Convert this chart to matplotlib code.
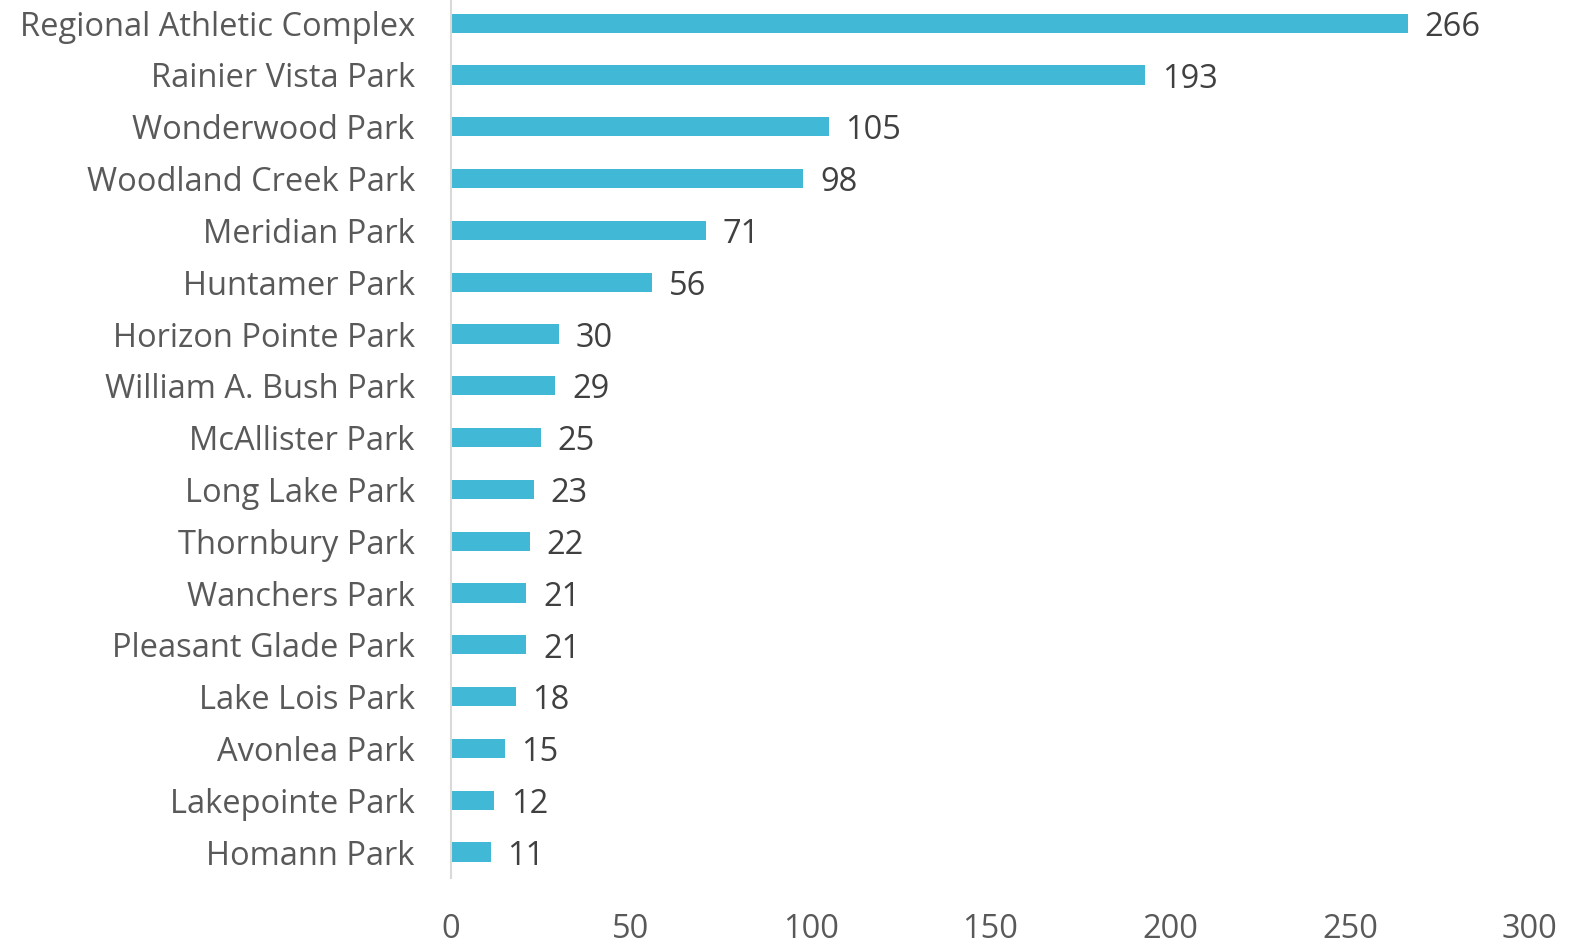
import matplotlib.pyplot as plt

parks = ['Regional Athletic Complex', 'Rainier Vista Park', 'Wonderwood Park',
         'Woodland Creek Park', 'Meridian Park', 'Huntamer Park', 'Horizon Pointe Park',
         'William A. Bush Park', 'McAllister Park', 'Long Lake Park', 'Thornbury Park',
         'Wanchers Park', 'Pleasant Glade Park', 'Lake Lois Park', 'Avonlea Park',
         'Lakepointe Park', 'Homann Park']
counts = [266, 193, 105, 98, 71, 56, 30, 29, 25, 23, 22, 21, 21, 18, 15, 12, 11]
xticks = [0, 50, 100, 150, 200, 250, 300]

plt.rcParams['font.family'] = ['Open Sans', 'DejaVu Sans']

fig = plt.figure(figsize=(15.89, 9.46), dpi=100)
ax = fig.add_axes([0.2838, 0.0719, 0.679, 0.931])

ypos = list(range(len(parks)))[::-1]
ax.barh(ypos, counts, height=0.37, color='#41B8D5')

for y, v in zip(ypos, counts):
    ax.annotate(str(v), xy=(v, y), xytext=(12, -3), textcoords='offset points',
                ha='left', va='center', fontsize=23.5, color='#404040')

ax.set_xlim(0, 300)
ax.set_ylim(-0.5, 16.5)
ax.set_xticks(xticks)
ax.set_yticks(ypos)
ax.set_yticklabels(parks)

for s in ['top', 'right', 'bottom']:
    ax.spines[s].set_visible(False)
ax.spines['left'].set_color('#D9D9D9')
ax.spines['left'].set_linewidth(1.5)

ax.tick_params(axis='both', length=0, labelsize=23.5, labelcolor='#595959')
ax.tick_params(axis='y', pad=26)
ax.tick_params(axis='x', pad=25)

fig.savefig('out.png', dpi=100)
